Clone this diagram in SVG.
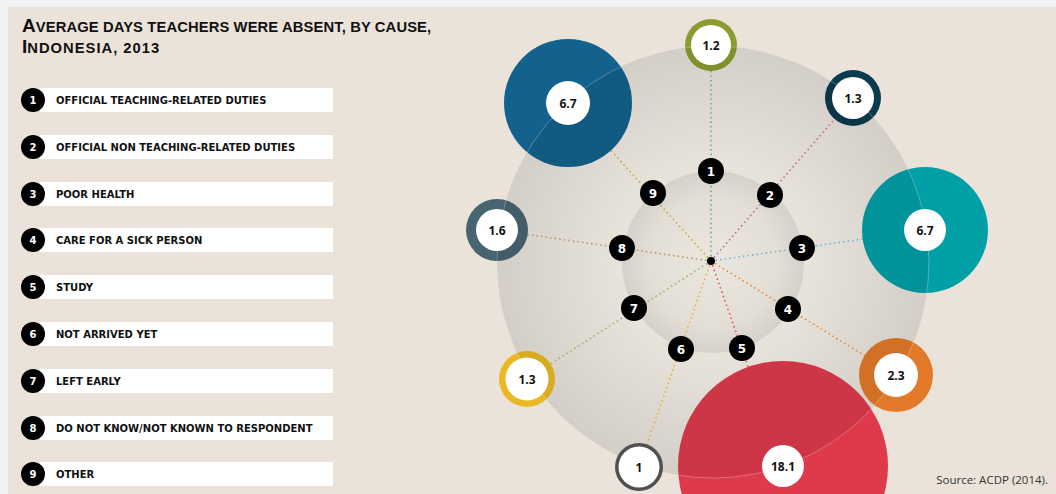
<svg xmlns="http://www.w3.org/2000/svg" width="1056" height="494" viewBox="0 0 1056 494">
<style>
.title{font-family:"Liberation Sans",Arial,sans-serif;font-weight:700;fill:#111}
.lg{font-family:"DejaVu Sans",sans-serif;font-weight:700;font-size:10px;fill:#111}
.lgn{font-family:"DejaVu Sans",sans-serif;font-weight:700;font-size:10px;fill:#fff;text-anchor:middle}
.bar{fill:#fff}
.blk{fill:#000}
.num{font-family:"DejaVu Sans",sans-serif;font-weight:700;font-size:12px;fill:#fff;text-anchor:middle}
.val{font-family:"Open Sans","Liberation Sans",sans-serif;font-weight:700;font-size:12px;fill:#111;text-anchor:middle}
.wh{fill:#fff}
.con{fill:none;stroke-width:1.6;stroke-dasharray:1.6 3}
.ov{fill:#000;fill-opacity:0.07;stroke:#fff;stroke-opacity:0.35;stroke-width:0.8}
.src{font-family:"Open Sans","Liberation Sans",sans-serif;font-size:11.5px;fill:#333;text-anchor:end}
</style>
<defs>
<radialGradient id="gOuter" cx="0.5" cy="0.5" r="0.5">
<stop offset="0" stop-color="#e9e4dc"/>
<stop offset="0.45" stop-color="#e7e2da"/>
<stop offset="1" stop-color="#d3cfc8"/>
</radialGradient>
<radialGradient id="gInner" cx="0.5" cy="0.5" r="0.5">
<stop offset="0" stop-color="#ebe6de"/>
<stop offset="0.7" stop-color="#e3dfd7"/>
<stop offset="1" stop-color="#d5d1ca"/>
</radialGradient>
<clipPath id="c1"><circle cx="711" cy="45" r="26"/></clipPath>
<clipPath id="c2"><circle cx="853" cy="98" r="28"/></clipPath>
<clipPath id="c3"><circle cx="925" cy="230" r="63"/></clipPath>
<clipPath id="c4"><circle cx="896" cy="375" r="37"/></clipPath>
<clipPath id="c5"><circle cx="783" cy="466" r="105"/></clipPath>
<clipPath id="c6"><circle cx="639" cy="467" r="24"/></clipPath>
<clipPath id="c7"><circle cx="527" cy="379" r="28"/></clipPath>
<clipPath id="c8"><circle cx="497" cy="230" r="31"/></clipPath>
<clipPath id="c9"><circle cx="568" cy="103" r="64"/></clipPath>
</defs>
<rect x="0" y="0" width="1056" height="494" fill="#f0f1f0"/>
<rect x="8" y="7" width="1048" height="487" fill="#ebe3da"/>

<g id="title">
<text class="title" x="22" y="32"><tspan font-size="19">A</tspan><tspan font-size="14.75" letter-spacing="0.12">VERAGE DAYS TEACHERS WERE ABSENT, BY CAUSE,</tspan></text>
<text class="title" x="22" y="53"><tspan font-size="19">I</tspan><tspan font-size="14.75" letter-spacing="1">NDONESIA, 2013</tspan></text>
</g>

<g id="legend">
<g id="legend-1"><rect class="bar" x="40" y="88" width="293" height="24"/><circle class="blk" cx="33" cy="100" r="12"/><text class="lgn" x="33" y="104">1</text><text class="lg" x="56" y="104">OFFICIAL TEACHING-RELATED DUTIES</text></g>
<g id="legend-2"><rect class="bar" x="40" y="135" width="293" height="24"/><circle class="blk" cx="33" cy="147" r="12"/><text class="lgn" x="33" y="151">2</text><text class="lg" x="56" y="151">OFFICIAL NON TEACHING-RELATED DUTIES</text></g>
<g id="legend-3"><rect class="bar" x="40" y="182" width="293" height="24"/><circle class="blk" cx="33" cy="194" r="12"/><text class="lgn" x="33" y="198">3</text><text class="lg" x="56" y="198">POOR HEALTH</text></g>
<g id="legend-4"><rect class="bar" x="40" y="228" width="293" height="24"/><circle class="blk" cx="33" cy="240" r="12"/><text class="lgn" x="33" y="244">4</text><text class="lg" x="56" y="244">CARE FOR A SICK PERSON</text></g>
<g id="legend-5"><rect class="bar" x="40" y="275" width="293" height="24"/><circle class="blk" cx="33" cy="287" r="12"/><text class="lgn" x="33" y="291">5</text><text class="lg" x="56" y="291">STUDY</text></g>
<g id="legend-6"><rect class="bar" x="40" y="322" width="293" height="24"/><circle class="blk" cx="33" cy="334" r="12"/><text class="lgn" x="33" y="338">6</text><text class="lg" x="56" y="338">NOT ARRIVED YET</text></g>
<g id="legend-7"><rect class="bar" x="40" y="369" width="293" height="24"/><circle class="blk" cx="33" cy="381" r="12"/><text class="lgn" x="33" y="385">7</text><text class="lg" x="56" y="385">LEFT EARLY</text></g>
<g id="legend-8"><rect class="bar" x="40" y="416" width="293" height="24"/><circle class="blk" cx="33" cy="428" r="12"/><text class="lgn" x="33" y="432">8</text><text class="lg" x="56" y="432">DO NOT KNOW/NOT KNOWN TO RESPONDENT</text></g>
<g id="legend-9"><rect class="bar" x="40" y="462" width="293" height="24"/><circle class="blk" cx="33" cy="474" r="12"/><text class="lgn" x="33" y="478">9</text><text class="lg" x="56" y="478">OTHER</text></g>
</g>

<g id="backdrop">
<circle cx="713" cy="262" r="216" fill="url(#gOuter)"/>
<circle cx="713" cy="262" r="91" fill="url(#gInner)"/>
</g>

<g id="connectors">
<line class="con" x1="711" y1="261" x2="711" y2="45" stroke="#5fb49c"/>
<line class="con" x1="711" y1="261" x2="853" y2="98" stroke="#c86aa0"/>
<line class="con" x1="711" y1="261" x2="925" y2="230" stroke="#6cbcc6"/>
<line class="con" x1="711" y1="261" x2="896" y2="375" stroke="#e88d3c"/>
<line class="con" x1="711" y1="261" x2="783" y2="466" stroke="#e25564"/>
<line class="con" x1="711" y1="261" x2="639" y2="467" stroke="#e8b22e"/>
<line class="con" x1="711" y1="261" x2="527" y2="379" stroke="#9cb366"/>
<line class="con" x1="711" y1="261" x2="497" y2="230" stroke="#b39a72"/>
<line class="con" x1="711" y1="261" x2="568" y2="103" stroke="#c9a73e"/>
</g>

<g id="node-1">
<circle cx="711" cy="45" r="26" fill="#8a9c30"/>
<circle class="ov" cx="713" cy="262" r="216" clip-path="url(#c1)"/>
<circle class="wh" cx="711" cy="45" r="20"/>
<text class="val" x="711" y="49.5">1.2</text>
<circle class="blk" cx="711" cy="171" r="13"/><text class="num" x="711" y="175.5">1</text>
</g>
<g id="node-2">
<circle cx="853" cy="98" r="28" fill="#0b3b4e"/>
<circle class="ov" cx="713" cy="262" r="216" clip-path="url(#c2)"/>
<circle class="wh" cx="853" cy="98" r="21"/>
<text class="val" x="853" y="102.5">1.3</text>
<circle class="blk" cx="770" cy="195" r="13"/><text class="num" x="770" y="199.5">2</text>
</g>
<g id="node-3">
<circle cx="925" cy="230" r="63" fill="#00a0a6"/>
<circle class="ov" cx="713" cy="262" r="216" clip-path="url(#c3)"/>
<circle class="wh" cx="925" cy="230" r="21"/>
<text class="val" x="925" y="234.5">6.7</text>
<circle class="blk" cx="802" cy="248" r="13"/><text class="num" x="802" y="252.5">3</text>
</g>
<g id="node-4">
<circle cx="896" cy="375" r="37" fill="#e27a29"/>
<circle class="ov" cx="713" cy="262" r="216" clip-path="url(#c4)"/>
<circle class="wh" cx="896" cy="375" r="22"/>
<text class="val" x="896" y="379.5">2.3</text>
<circle class="blk" cx="788" cy="309" r="13"/><text class="num" x="788" y="313.5">4</text>
</g>
<g id="node-5">
<circle cx="783" cy="466" r="105" fill="#de3a4c"/>
<circle class="ov" cx="713" cy="262" r="216" clip-path="url(#c5)"/>
<circle class="wh" cx="783" cy="466" r="21"/>
<text class="val" x="783" y="470.5">18.1</text>
<circle class="blk" cx="742" cy="348" r="13"/><text class="num" x="742" y="352.5">5</text>
</g>
<g id="node-6">
<circle cx="639" cy="467" r="24" fill="#505050"/>
<circle class="wh" cx="639" cy="467" r="20.5"/>
<text class="val" x="639" y="471.5">1</text>
<circle class="blk" cx="681" cy="349" r="13"/><text class="num" x="681" y="353.5">6</text>
</g>
<g id="node-7">
<circle cx="527" cy="379" r="28" fill="#e9b823"/>
<circle class="ov" cx="713" cy="262" r="216" clip-path="url(#c7)"/>
<circle class="wh" cx="527" cy="379" r="21.5"/>
<text class="val" x="527" y="383.5">1.3</text>
<circle class="blk" cx="634" cy="308" r="13"/><text class="num" x="634" y="312.5">7</text>
</g>
<g id="node-8">
<circle cx="497" cy="230" r="31" fill="#476471"/>
<circle class="ov" cx="713" cy="262" r="216" clip-path="url(#c8)"/>
<circle class="wh" cx="497" cy="230" r="21"/>
<text class="val" x="497" y="234.5">1.6</text>
<circle class="blk" cx="622" cy="248" r="13"/><text class="num" x="622" y="252.5">8</text>
</g>
<g id="node-9">
<circle cx="568" cy="103" r="64" fill="#13628d"/>
<circle class="ov" cx="713" cy="262" r="216" clip-path="url(#c9)"/>
<circle class="wh" cx="568" cy="103" r="22"/>
<text class="val" x="568" y="107.5">6.7</text>
<circle class="blk" cx="653" cy="193" r="13"/><text class="num" x="653" y="197.5">9</text>
</g>

<g id="hub"><circle cx="711" cy="261" r="4" fill="#000"/></g>

<text class="src" x="1048" y="484">Source: ACDP (2014).</text>
</svg>
